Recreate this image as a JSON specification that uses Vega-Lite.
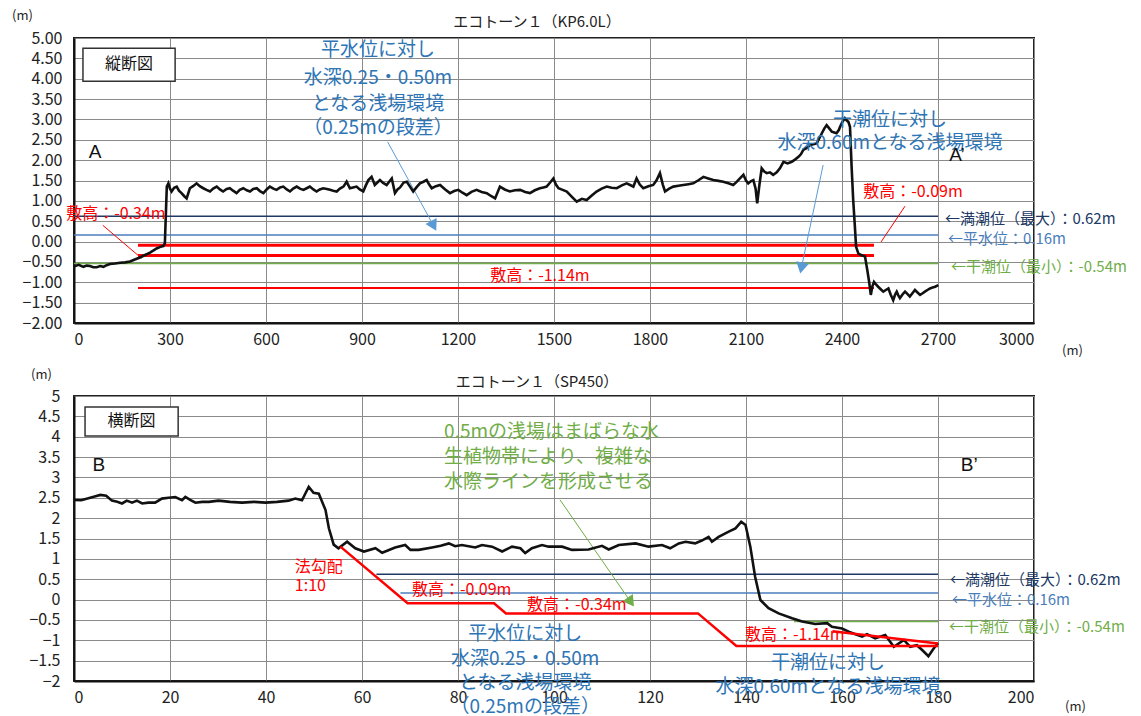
{
  "$schema": "https://vega.github.io/schema/vega-lite/v6.json",
  "autosize": {"type": "none"},
  "padding": {"left": 74, "top": 38, "right": 1067, "bottom": 678},
  "background": "white",
  "spacing": 73,
  "bounds": "flush",
  "config": {
    "font": "Noto Sans CJK JP",
    "view": {"stroke": "#222", "strokeWidth": 2},
    "axis": {"grid": true, "gridColor": "#8a8a8a", "gridWidth": 1, "gridOpacity": 1, "domainColor": "#111", "domainWidth": 2, "ticks": false, "labelFont": "Noto Sans CJK JP", "labelFontSize": 16, "labelColor": "#222", "titleFont": "Noto Sans CJK JP", "titleFontWeight": "normal", "titleFontSize": 13, "titleColor": "#222"},
    "title": {"font": "Noto Sans CJK JP", "fontWeight": "normal", "fontSize": 15, "color": "#222"},
    "text": {"font": "Noto Sans CJK JP"}
  },
  "datasets": {
    "topRefs": [
      {"k": "満潮位", "x": 0, "x2": 2700, "y": 0.62},
      {"k": "平水位", "x": 0, "x2": 2700, "y": 0.16},
      {"k": "干潮位", "x": 0, "x2": 2700, "y": -0.54}
    ],
    "topRedThick": [
      {"x": 200, "x2": 2500, "y": -0.09},
      {"x": 200, "x2": 2500, "y": -0.34}
    ],
    "topRedThin": [
      {"x": 200, "x2": 2500, "y": -1.14}
    ],
    "topLeaders": [
      {"x": 90, "y": 0.40, "x2": 211, "y2": -0.41},
      {"x": 2597, "y": 0.87, "x2": 2522, "y2": -0.01}
    ],
    "topArrows": [
      {"x": 980, "y": 2.45, "x2": 1124, "y2": 0.385},
      {"x": 2341, "y": 1.88, "x2": 2273, "y2": -0.65}
    ],
    "topHead1": [{"x": 1124, "y": 0.385}],
    "topHead2": [{"x": 2273, "y": -0.65}],
    "topProfile": [
      {"x":0,"y":-0.58},{"x":3,"y":-0.60},{"x":15,"y":-0.57},{"x":29,"y":-0.62},{"x":40,"y":-0.59},{"x":50,"y":-0.60},{"x":60,"y":-0.63},{"x":71,"y":-0.63},{"x":82,"y":-0.60},{"x":92,"y":-0.62},{"x":102,"y":-0.58},{"x":112.5,"y":-0.55},{"x":128,"y":-0.54},{"x":144,"y":-0.52},{"x":160,"y":-0.51},{"x":175,"y":-0.49},{"x":190,"y":-0.44},{"x":206,"y":-0.39},{"x":222,"y":-0.33},{"x":237.5,"y":-0.27},{"x":250,"y":-0.21},{"x":258,"y":-0.17},{"x":270,"y":-0.13},{"x":279,"y":-0.11},{"x":284,"y":-0.04},{"x":290,"y":1.35},{"x":295,"y":1.43},{"x":300,"y":1.30},{"x":305,"y":1.23},{"x":313,"y":1.32},{"x":321,"y":1.35},{"x":328,"y":1.25},{"x":336,"y":1.19},{"x":344,"y":1.12},{"x":352,"y":1.06},{"x":362,"y":1.31},{"x":372,"y":1.36},{"x":383,"y":1.43},{"x":393,"y":1.36},{"x":404,"y":1.31},{"x":414,"y":1.27},{"x":425,"y":1.23},{"x":435,"y":1.30},{"x":446,"y":1.35},{"x":456,"y":1.28},{"x":466,"y":1.23},{"x":477,"y":1.29},{"x":487,"y":1.31},{"x":497,"y":1.25},{"x":508,"y":1.19},{"x":518,"y":1.27},{"x":529,"y":1.31},{"x":540,"y":1.26},{"x":550,"y":1.23},{"x":560,"y":1.29},{"x":571,"y":1.31},{"x":581,"y":1.24},{"x":592,"y":1.19},{"x":602,"y":1.28},{"x":612,"y":1.35},{"x":623,"y":1.30},{"x":633,"y":1.27},{"x":644,"y":1.33},{"x":654,"y":1.35},{"x":665,"y":1.28},{"x":675,"y":1.23},{"x":685,"y":1.30},{"x":696,"y":1.35},{"x":706,"y":1.30},{"x":717,"y":1.27},{"x":727,"y":1.31},{"x":737,"y":1.35},{"x":748,"y":1.28},{"x":758,"y":1.23},{"x":768,"y":1.28},{"x":779,"y":1.31},{"x":790,"y":1.29},{"x":800,"y":1.27},{"x":810,"y":1.25},{"x":821,"y":1.23},{"x":831,"y":1.30},{"x":842,"y":1.35},{"x":852,"y":1.47},{"x":862,"y":1.31},{"x":872,"y":1.33},{"x":883,"y":1.35},{"x":893,"y":1.28},{"x":904,"y":1.23},{"x":912,"y":1.38},{"x":920,"y":1.51},{"x":930,"y":1.59},{"x":940,"y":1.39},{"x":948,"y":1.45},{"x":956,"y":1.51},{"x":966,"y":1.44},{"x":977,"y":1.39},{"x":985,"y":1.47},{"x":993,"y":1.55},{"x":1003,"y":1.19},{"x":1011,"y":1.28},{"x":1019,"y":1.33},{"x":1030,"y":1.45},{"x":1040,"y":1.47},{"x":1050,"y":1.35},{"x":1060,"y":1.23},{"x":1070,"y":1.33},{"x":1081,"y":1.43},{"x":1092,"y":1.47},{"x":1102,"y":1.51},{"x":1110,"y":1.40},{"x":1118,"y":1.31},{"x":1131,"y":1.36},{"x":1144,"y":1.39},{"x":1160,"y":1.28},{"x":1175,"y":1.19},{"x":1188,"y":1.24},{"x":1201,"y":1.27},{"x":1214,"y":1.20},{"x":1227,"y":1.14},{"x":1242,"y":1.22},{"x":1258,"y":1.27},{"x":1274,"y":1.22},{"x":1290,"y":1.19},{"x":1303,"y":1.12},{"x":1316,"y":1.06},{"x":1331,"y":1.35},{"x":1346,"y":1.28},{"x":1362,"y":1.23},{"x":1378,"y":1.26},{"x":1394,"y":1.27},{"x":1410,"y":1.22},{"x":1425,"y":1.19},{"x":1440,"y":1.26},{"x":1456,"y":1.31},{"x":1467,"y":1.33},{"x":1477,"y":1.35},{"x":1488,"y":1.45},{"x":1498,"y":1.55},{"x":1506,"y":1.40},{"x":1514,"y":1.31},{"x":1527,"y":1.27},{"x":1540,"y":1.23},{"x":1556,"y":1.10},{"x":1571,"y":0.98},{"x":1587,"y":1.05},{"x":1602,"y":1.02},{"x":1618,"y":1.13},{"x":1633,"y":1.23},{"x":1649,"y":1.30},{"x":1665,"y":1.35},{"x":1680,"y":1.32},{"x":1696,"y":1.31},{"x":1712,"y":1.38},{"x":1727,"y":1.43},{"x":1738,"y":1.39},{"x":1748,"y":1.35},{"x":1758,"y":1.55},{"x":1768,"y":1.40},{"x":1779,"y":1.31},{"x":1795,"y":1.36},{"x":1810,"y":1.39},{"x":1820,"y":1.50},{"x":1831,"y":1.68},{"x":1840,"y":1.40},{"x":1847,"y":1.23},{"x":1860,"y":1.30},{"x":1873,"y":1.35},{"x":1889,"y":1.37},{"x":1904,"y":1.39},{"x":1920,"y":1.41},{"x":1935,"y":1.43},{"x":1950,"y":1.50},{"x":1967,"y":1.59},{"x":1982,"y":1.55},{"x":1998,"y":1.51},{"x":2014,"y":1.49},{"x":2029,"y":1.47},{"x":2045,"y":1.43},{"x":2060,"y":1.39},{"x":2070,"y":1.46},{"x":2081,"y":1.55},{"x":2092,"y":1.64},{"x":2100,"y":1.50},{"x":2107,"y":1.43},{"x":2115,"y":1.48},{"x":2123,"y":1.51},{"x":2130,"y":1.30},{"x":2135,"y":0.94},{"x":2142,"y":1.40},{"x":2149,"y":1.80},{"x":2157,"y":1.72},{"x":2165,"y":1.68},{"x":2175,"y":1.70},{"x":2185,"y":1.64},{"x":2196,"y":1.70},{"x":2206,"y":1.80},{"x":2217,"y":1.96},{"x":2230,"y":1.92},{"x":2243,"y":1.96},{"x":2254,"y":2.02},{"x":2264,"y":2.08},{"x":2272,"y":2.15},{"x":2279,"y":2.25},{"x":2290,"y":2.30},{"x":2300,"y":2.37},{"x":2310,"y":2.39},{"x":2321,"y":2.41},{"x":2330,"y":2.55},{"x":2337,"y":2.66},{"x":2345,"y":2.78},{"x":2352,"y":2.86},{"x":2360,"y":2.78},{"x":2368,"y":2.70},{"x":2376,"y":2.68},{"x":2383,"y":2.66},{"x":2390,"y":2.74},{"x":2394,"y":2.82},{"x":2402,"y":2.95},{"x":2409,"y":3.03},{"x":2415,"y":2.97},{"x":2420,"y":2.94},{"x":2425,"y":2.82},{"x":2430,"y":1.84},{"x":2435,"y":1.02},{"x":2440,"y":0.40},{"x":2444,"y":-0.13},{"x":2451,"y":-0.29},{"x":2460,"y":-0.33},{"x":2472,"y":-0.37},{"x":2479,"y":-0.70},{"x":2485,"y":-1.00},{"x":2490,"y":-1.31},{"x":2495,"y":-1.10},{"x":2500,"y":-0.99},{"x":2507,"y":-1.06},{"x":2513,"y":-1.11},{"x":2521,"y":-1.17},{"x":2529,"y":-1.23},{"x":2537,"y":-1.19},{"x":2545,"y":-1.15},{"x":2552,"y":-1.30},{"x":2560,"y":-1.44},{"x":2566,"y":-1.30},{"x":2571,"y":-1.23},{"x":2576,"y":-1.32},{"x":2581,"y":-1.39},{"x":2589,"y":-1.30},{"x":2597,"y":-1.23},{"x":2605,"y":-1.29},{"x":2612,"y":-1.35},{"x":2620,"y":-1.27},{"x":2628,"y":-1.19},{"x":2636,"y":-1.25},{"x":2644,"y":-1.31},{"x":2652,"y":-1.27},{"x":2659,"y":-1.23},{"x":2667,"y":-1.19},{"x":2675,"y":-1.15},{"x":2683,"y":-1.13},{"x":2691,"y":-1.11},{"x":2701,"y":-1.07}
    ],
    "topBlueText": [
      {"x": 950, "y": 4.71, "t": "平水位に対し"},
      {"x": 950, "y": 4.02, "t": "水深0.25・0.50m"},
      {"x": 950, "y": 3.38, "t": "となる浅場環境"},
      {"x": 950, "y": 2.79, "t": "（0.25mの段差）"},
      {"x": 2550, "y": 2.99, "t": "干潮位に対し"},
      {"x": 2550, "y": 2.42, "t": "水深0.60mとなる浅場環境"}
    ],
    "topRedText": [
      {"x": 131, "y": 0.68, "t": "敷高：-0.34m"},
      {"x": 2622, "y": 1.22, "t": "敷高：-0.09m"},
      {"x": 1456, "y": -0.85, "t": "敷高：-1.14m"}
    ],
    "topRightText": [
      {"k": "満潮位", "x": 2722, "y": 0.55, "t": "←満潮位（最大）：0.62m"},
      {"k": "平水位", "x": 2731, "y": 0.06, "t": "←平水位：0.16m"},
      {"k": "干潮位", "x": 2741, "y": -0.63, "t": "←干潮位（最小）：-0.54m"}
    ],
    "topLetters": [
      {"x": 66, "y": 2.2, "t": "A"},
      {"x": 2759, "y": 2.13, "t": "A’"}
    ],
    "topBox": [{"x": 28, "x2": 316, "y": 3.94, "y2": 4.75, "t": "縦断図", "tx": 172, "ty": 4.35}],
    "botRefs": [
      {"k": "満潮位", "x": 63, "x2": 180, "y": 0.62},
      {"k": "平水位", "x": 68, "x2": 180, "y": 0.16},
      {"k": "干潮位", "x": 150, "x2": 180, "y": -0.54}
    ],
    "botRed": [
      {"s": "a", "x": 55.5, "y": 1.3},
      {"s": "a", "x": 69.5, "y": -0.09},
      {"s": "a", "x": 87.5, "y": -0.09},
      {"s": "a", "x": 90, "y": -0.34},
      {"s": "a", "x": 130, "y": -0.34},
      {"s": "a", "x": 138, "y": -1.14},
      {"s": "a", "x": 180, "y": -1.14},
      {"s": "b", "x": 158, "y": -0.78},
      {"s": "b", "x": 180, "y": -1.08}
    ],
    "botArrow": [{"x": 101.25, "y": 2.45, "x2": 116.0, "y2": -0.06}],
    "botHead": [{"x": 116.0, "y": -0.06}],
    "botProfile": [
      {"x":0,"y":2.445},{"x":1.5,"y":2.44},{"x":3,"y":2.49},{"x":4.3,"y":2.53},{"x":5.5,"y":2.57},{"x":6.7,"y":2.55},{"x":7.9,"y":2.43},{"x":9,"y":2.40},{"x":10,"y":2.36},{"x":11,"y":2.43},{"x":12.1,"y":2.38},{"x":13.1,"y":2.43},{"x":14.2,"y":2.36},{"x":15.5,"y":2.38},{"x":16.9,"y":2.38},{"x":18.3,"y":2.48},{"x":19.7,"y":2.50},{"x":21.1,"y":2.52},{"x":22.5,"y":2.44},{"x":23.2,"y":2.52},{"x":24.2,"y":2.45},{"x":25.3,"y":2.38},{"x":26.7,"y":2.40},{"x":28.1,"y":2.40},{"x":30.1,"y":2.43},{"x":32.5,"y":2.40},{"x":35,"y":2.38},{"x":37.5,"y":2.40},{"x":39.9,"y":2.38},{"x":42.3,"y":2.40},{"x":44.7,"y":2.43},{"x":46.1,"y":2.48},{"x":47.5,"y":2.44},{"x":48.9,"y":2.77},{"x":49.9,"y":2.62},{"x":51,"y":2.60},{"x":52.4,"y":2.2},{"x":53.1,"y":1.75},{"x":54.1,"y":1.35},{"x":55.1,"y":1.26},{"x":56.9,"y":1.42},{"x":58.6,"y":1.26},{"x":60.4,"y":1.18},{"x":62.8,"y":1.26},{"x":64.2,"y":1.15},{"x":66.9,"y":1.28},{"x":69,"y":1.34},{"x":70.1,"y":1.22},{"x":71.8,"y":1.22},{"x":74.6,"y":1.28},{"x":76.4,"y":1.32},{"x":78.1,"y":1.38},{"x":79.4,"y":1.31},{"x":80.8,"y":1.34},{"x":83.6,"y":1.28},{"x":85,"y":1.34},{"x":87.1,"y":1.30},{"x":89.2,"y":1.18},{"x":91.25,"y":1.30},{"x":93,"y":1.26},{"x":94,"y":1.14},{"x":95.4,"y":1.26},{"x":97.5,"y":1.34},{"x":98.9,"y":1.30},{"x":101.7,"y":1.30},{"x":103.75,"y":1.22},{"x":107.2,"y":1.23},{"x":110,"y":1.32},{"x":111.4,"y":1.23},{"x":113.5,"y":1.34},{"x":117,"y":1.38},{"x":119.7,"y":1.30},{"x":122.5,"y":1.34},{"x":124.2,"y":1.26},{"x":126,"y":1.38},{"x":127.4,"y":1.42},{"x":129.4,"y":1.38},{"x":130.8,"y":1.45},{"x":132.2,"y":1.54},{"x":132.9,"y":1.42},{"x":134.3,"y":1.54},{"x":136.4,"y":1.67},{"x":137.8,"y":1.75},{"x":139,"y":1.91},{"x":139.9,"y":1.83},{"x":140.9,"y":1.30},{"x":141.9,"y":0.56},{"x":143,"y":-0.01},{"x":144.7,"y":-0.21},{"x":146.8,"y":-0.34},{"x":149.6,"y":-0.46},{"x":151.7,"y":-0.54},{"x":154.4,"y":-0.60},{"x":156.9,"y":-0.58},{"x":157.9,"y":-0.67},{"x":160,"y":-0.71},{"x":161.4,"y":-0.79},{"x":162.8,"y":-0.85},{"x":164.2,"y":-0.91},{"x":165.2,"y":-0.85},{"x":166.9,"y":-0.95},{"x":169,"y":-0.87},{"x":170.8,"y":-1.16},{"x":172.9,"y":-0.99},{"x":174.2,"y":-1.16},{"x":175.6,"y":-1.12},{"x":176.7,"y":-1.24},{"x":178,"y":-1.39},{"x":179.1,"y":-1.20},{"x":180,"y":-1.07}
    ],
    "botBlueText": [
      {"x": 94, "y": -0.85, "t": "平水位に対し"},
      {"x": 94, "y": -1.46, "t": "水深0.25・0.50m"},
      {"x": 94, "y": -2.05, "t": "となる浅場環境"},
      {"x": 94, "y": -2.64, "t": "（0.25mの段差）"},
      {"x": 157.1, "y": -1.56, "t": "干潮位に対し"},
      {"x": 157.1, "y": -2.15, "t": "水深0.60mとなる浅場環境"}
    ],
    "botGreenText": [
      {"x": 77.1, "y": 4.12, "t": "0.5mの浅場はまばらな水"},
      {"x": 77.1, "y": 3.50, "t": "生植物帯により、複雑な"},
      {"x": 77.1, "y": 2.89, "t": "水際ラインを形成させる"}
    ],
    "botRedText": [
      {"x": 46, "y": 0.80, "t": "法勾配"},
      {"x": 46, "y": 0.33, "t": "1:10"},
      {"x": 70.4, "y": 0.23, "t": "敷高：-0.09m"},
      {"x": 94.4, "y": -0.13, "t": "敷高：-0.34m"},
      {"x": 139.8, "y": -0.87, "t": "敷高：-1.14m"}
    ],
    "botRightText": [
      {"k": "満潮位", "x": 182.5, "y": 0.48, "t": "←満潮位（最大）：0.62m"},
      {"k": "平水位", "x": 182.9, "y": -0.01, "t": "←平水位：0.16m"},
      {"k": "干潮位", "x": 182.3, "y": -0.67, "t": "←干潮位（最小）：-0.54m"}
    ],
    "botLetters": [
      {"x": 5.2, "y": 3.31, "t": "B"},
      {"x": 186.5, "y": 3.31, "t": "B’"}
    ],
    "botBox": [{"x": 2.3, "x2": 21.7, "y": 4.02, "y2": 4.73, "t": "横断図", "tx": 12, "ty": 4.38}]
  },
  "vconcat": [
    {
      "width": 960,
      "height": 285,
      "title": {"text": "エコトーン１（KP6.0L）", "dx": -17, "offset": -21, "frame": "group"},
      "encoding": {
        "x": {"field": "x", "type": "quantitative", "scale": {"domain": [0, 3000], "nice": false, "zero": false},
          "axis": {"values": [0, 300, 600, 900, 1200, 1500, 1800, 2100, 2400, 2700, 3000], "format": "d", "labelPadding": 8, "title": "(m)", "titleX": 998, "titleY": 27, "titleAngle": 0, "titleAlign": "center", "titleBaseline": "middle"}},
        "y": {"field": "y", "type": "quantitative", "scale": {"domain": [-2, 5], "nice": false, "zero": false},
          "axis": {"values": [-2, -1.5, -1, -0.5, 0, 0.5, 1, 1.5, 2, 2.5, 3, 3.5, 4, 4.5, 5], "format": ".2f", "labelPadding": 12, "title": "(m)", "titleX": -52, "titleY": -23, "titleAngle": 0, "titleAlign": "center", "titleBaseline": "middle"}}
      },
      "layer": [
        {"data": {"name": "topRefs"}, "mark": {"type": "rule", "strokeWidth": 1.5},
         "encoding": {"x2": {"field": "x2"}, "color": {"field": "k", "type": "nominal", "legend": null, "scale": {"domain": ["満潮位", "平水位", "干潮位"], "range": ["#203864", "#4a7ebb", "#70ad47"]}}}},
        {"data": {"name": "topRedThin"}, "mark": {"type": "rule", "strokeWidth": 1.8, "color": "#ff0000"}, "encoding": {"x2": {"field": "x2"}}},
        {"data": {"name": "topRedThick"}, "mark": {"type": "rule", "strokeWidth": 3, "color": "#ff0000"}, "encoding": {"x2": {"field": "x2"}}},
        {"data": {"name": "topLeaders"}, "mark": {"type": "rule", "strokeWidth": 1, "color": "#ff0000"}, "encoding": {"x2": {"field": "x2"}, "y2": {"field": "y2"}}},
        {"data": {"name": "topArrows"}, "mark": {"type": "rule", "strokeWidth": 1, "color": "#5b9bd5"}, "encoding": {"x2": {"field": "x2"}, "y2": {"field": "y2"}}},
        {"data": {"name": "topHead1"}, "mark": {"type": "point", "shape": "triangle-up", "filled": true, "size": 160, "angle": 152, "color": "#5b9bd5", "opacity": 1}},
        {"data": {"name": "topHead2"}, "mark": {"type": "point", "shape": "triangle-up", "filled": true, "size": 160, "angle": 192, "color": "#5b9bd5", "opacity": 1}},
        {"data": {"name": "topProfile"}, "mark": {"type": "line", "strokeWidth": 2.6, "color": "#111"}},
        {"data": {"name": "topBlueText"}, "mark": {"type": "text", "fontSize": 19, "color": "#2e75b6", "align": "center", "baseline": "middle"}, "encoding": {"text": {"field": "t"}}},
        {"data": {"name": "topRedText"}, "mark": {"type": "text", "fontSize": 16, "color": "#ff0000", "align": "center", "baseline": "middle"}, "encoding": {"text": {"field": "t"}}},
        {"data": {"name": "topRightText"}, "mark": {"type": "text", "fontSize": 15, "align": "left", "baseline": "middle"},
         "encoding": {"text": {"field": "t"}, "color": {"field": "k", "type": "nominal", "legend": null}}},
        {"data": {"name": "topLetters"}, "mark": {"type": "text", "fontSize": 19, "font": "Liberation Sans", "color": "#111", "align": "center", "baseline": "middle"}, "encoding": {"text": {"field": "t"}}},
        {"data": {"name": "topBox"}, "mark": {"type": "rect", "fill": "white", "stroke": "#333", "strokeWidth": 1.5}, "encoding": {"x2": {"field": "x2"}, "y2": {"field": "y2"}}},
        {"data": {"name": "topBox"}, "mark": {"type": "text", "fontSize": 16, "color": "#111", "align": "center", "baseline": "middle"}, "encoding": {"x": {"field": "tx", "type": "quantitative"}, "y": {"field": "ty", "type": "quantitative"}, "text": {"field": "t"}}}
      ]
    },
    {
      "width": 960,
      "height": 285,
      "title": {"text": "エコトーン１（SP450）", "dx": -17, "offset": -22, "frame": "group"},
      "encoding": {
        "x": {"field": "x", "type": "quantitative", "scale": {"domain": [0, 200], "nice": false, "zero": false},
          "axis": {"values": [0, 20, 40, 60, 80, 100, 120, 140, 160, 180, 200], "format": "d", "labelPadding": 8, "title": "(m)", "titleX": 1001, "titleY": 25, "titleAngle": 0, "titleAlign": "center", "titleBaseline": "middle"}},
        "y": {"field": "y", "type": "quantitative", "scale": {"domain": [-2, 5], "nice": false, "zero": false},
          "axis": {"values": [-2, -1.5, -1, -0.5, 0, 0.5, 1, 1.5, 2, 2.5, 3, 3.5, 4, 4.5, 5], "format": "~g", "labelPadding": 14, "title": "(m)", "titleX": -33, "titleY": -22, "titleAngle": 0, "titleAlign": "center", "titleBaseline": "middle"}}
      },
      "layer": [
        {"data": {"name": "botRefs"}, "mark": {"type": "rule", "strokeWidth": 1.5},
         "encoding": {"x2": {"field": "x2"}, "color": {"field": "k", "type": "nominal", "legend": null, "scale": {"domain": ["満潮位", "平水位", "干潮位"], "range": ["#203864", "#4a7ebb", "#70ad47"]}}}},
        {"data": {"name": "botArrow"}, "mark": {"type": "rule", "strokeWidth": 1, "color": "#70ad47"}, "encoding": {"x2": {"field": "x2"}, "y2": {"field": "y2"}}},
        {"data": {"name": "botHead"}, "mark": {"type": "point", "shape": "triangle-up", "filled": true, "size": 160, "angle": 145, "color": "#70ad47", "opacity": 1}},
        {"data": {"name": "botProfile"}, "mark": {"type": "line", "strokeWidth": 2.6, "color": "#111"}},
        {"data": {"name": "botRed"}, "mark": {"type": "line", "strokeWidth": 2.5, "color": "#ff0000"}, "encoding": {"detail": {"field": "s"}}},
        {"data": {"name": "botBlueText"}, "mark": {"type": "text", "fontSize": 19, "color": "#2e75b6", "align": "center", "baseline": "middle"}, "encoding": {"text": {"field": "t"}}},
        {"data": {"name": "botGreenText"}, "mark": {"type": "text", "fontSize": 19, "color": "#70ad47", "align": "left", "baseline": "middle"}, "encoding": {"text": {"field": "t"}}},
        {"data": {"name": "botRedText"}, "mark": {"type": "text", "fontSize": 16, "color": "#ff0000", "align": "left", "baseline": "middle"}, "encoding": {"text": {"field": "t"}}},
        {"data": {"name": "botRightText"}, "mark": {"type": "text", "fontSize": 15, "align": "left", "baseline": "middle"},
         "encoding": {"text": {"field": "t"}, "color": {"field": "k", "type": "nominal", "legend": null}}},
        {"data": {"name": "botLetters"}, "mark": {"type": "text", "fontSize": 19, "font": "Liberation Sans", "color": "#111", "align": "center", "baseline": "middle"}, "encoding": {"text": {"field": "t"}}},
        {"data": {"name": "botBox"}, "mark": {"type": "rect", "fill": "white", "stroke": "#333", "strokeWidth": 1.5}, "encoding": {"x2": {"field": "x2"}, "y2": {"field": "y2"}}},
        {"data": {"name": "botBox"}, "mark": {"type": "text", "fontSize": 16, "color": "#111", "align": "center", "baseline": "middle"}, "encoding": {"x": {"field": "tx", "type": "quantitative"}, "y": {"field": "ty", "type": "quantitative"}, "text": {"field": "t"}}}
      ]
    }
  ]
}
